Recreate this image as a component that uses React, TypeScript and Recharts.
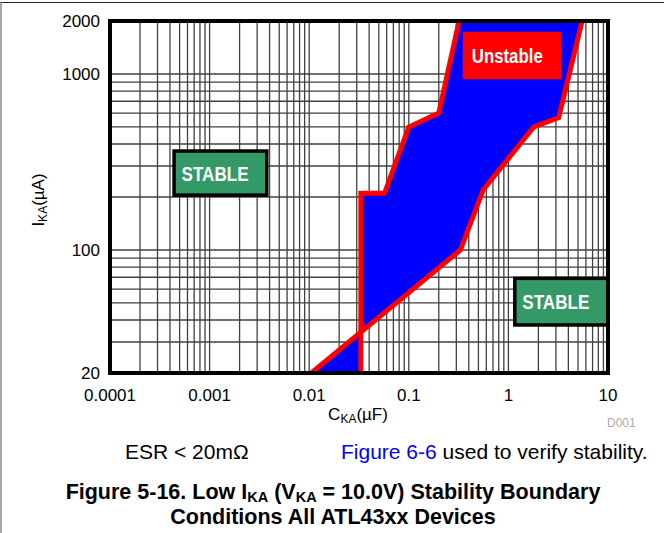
import { CartesianGrid, ReferenceArea, Scatter, ScatterChart, XAxis, YAxis } from "recharts";

// boundary of the unstable region (C in µF, I in µA)
const leftEdgeC = [0.033, 0.033, 0.057, 0.1, 0.2, 0.32];
const leftEdgeI = [20, 210, 210, 500, 600, 2000];
const rightEdgeC = [5.5, 3.2, 1.8, 0.56, 0.33, 0.0105];
const rightEdgeI = [2000, 565, 500, 220, 100, 20];

// axis labels
const xDecades = [0.0001, 0.001, 0.01, 0.1, 1, 10];
const yLabels = [20, 100, 1000, 2000];
const minorSteps = [1, 2, 3, 4, 5, 6, 7, 8, 9];
const yGrid = [20, 30, 40, 50, 60, 70, 80, 90, 100, 200, 300, 400, 500, 600, 700, 800, 900, 1000, 2000];

const xGrid = xDecades
    .slice(0, -1)
    .flatMap((d) => minorSteps.map((m) => Number((d * m).toPrecision(3))))
    .concat([10]);

const leftEdge = leftEdgeC.map((c, i) => ({ c, i: leftEdgeI[i] }));
const rightEdge = rightEdgeC.map((c, i) => ({ c, i: rightEdgeI[i] }));
const region = [...leftEdge, ...rightEdge];

const near = (a: number, b: number) => Math.abs(a - b) / b < 1e-6;
const fmtX = (v: number) => (xDecades.some((d) => near(v, d)) ? String(v) : "");
const fmtY = (v: number) => (yLabels.some((d) => near(v, d)) ? String(v) : "");

const font = "'Liberation Sans', Arial, sans-serif";

const boxShape = (label: string, fill: string, border: boolean, textWidth: number) => (p: any) => (
    <g>
        <rect x={p.x} y={p.y} width={p.width} height={p.height} fill={fill}
            stroke={border ? "#000" : "none"} strokeWidth={3.5} />
        <text x={p.x + (border ? 7.5 : 9)} y={p.y + p.height / 2 + 7.5} fill="#fff" fontWeight="bold"
            fontSize={19.5} fontFamily={font} textLength={textWidth} lengthAdjust="spacingAndGlyphs">
            {label}
        </text>
    </g>
);

const noDot = () => <g />;

export default function App() {
    return (
        <div style={{ position: "absolute", left: 0, top: 0, width: 664, height: 533, background: "#fff", fontFamily: font }}>
            <ScatterChart width={664} height={440} margin={{ top: 21, right: 56, bottom: 37, left: 0 }}>
                <CartesianGrid stroke="#404040" strokeWidth={1.3} />
                <XAxis type="number" dataKey="c" scale="log" domain={[0.0001, 10]} allowDataOverflow
                    ticks={xGrid} interval={0} tickFormatter={fmtX} height={30}
                    tickSize={0} tickMargin={16} axisLine={false}
                    tick={{ fontSize: 17, fill: "#000", fontFamily: font }} />
                <YAxis type="number" dataKey="i" scale="log" domain={[20, 2000]} allowDataOverflow
                    ticks={yGrid} interval={0} tickFormatter={fmtY} width={110}
                    tickSize={0} tickMargin={10} axisLine={false}
                    tick={{ fontSize: 17, fill: "#000", fontFamily: font }} />
                <Scatter data={region} fill="#0000ff" line={{ fill: "#0000ff", stroke: "none" }}
                    lineType="joint" shape={noDot} isAnimationActive={false} />
                <Scatter data={leftEdge} fill="#ff0000" line={{ stroke: "#ff0000", strokeWidth: 5 }}
                    lineType="joint" shape={noDot} isAnimationActive={false} />
                <Scatter data={rightEdge} fill="#ff0000" line={{ stroke: "#ff0000", strokeWidth: 5 }}
                    lineType="joint" shape={noDot} isAnimationActive={false} />
                <ReferenceArea x1={0.00044} x2={0.00375} y1={205} y2={365} zIndex={1000}
                    shape={boxShape("STABLE", "#339966", true, 67)} />
                <ReferenceArea x1={1.16} x2={10} y1={37.5} y2={69} zIndex={1000}
                    shape={boxShape("STABLE", "#339966", true, 67)} />
                <ReferenceArea x1={0.348} x2={3.43} y1={933} y2={1738} zIndex={1000}
                    shape={boxShape("Unstable", "#ff0000", false, 71)} />
                <ReferenceArea x1={0.0001} x2={10} y1={20} y2={2000} zIndex={1100}
                    fill="none" fillOpacity={0} stroke="#000" strokeWidth={4} />
            </ScatterChart>
            <svg width={664} height={533} style={{ position: "absolute", left: 0, top: 0, pointerEvents: "none" }}>
                <line x1={0} y1={2.5} x2={664} y2={2.5} stroke="#222" strokeWidth={1} />
                <line x1={1} y1={2} x2={1} y2={533} stroke="#888" strokeWidth={1.5} />
                <text transform="translate(43.5,200) rotate(-90)" textAnchor="middle" fontSize={17} fontFamily={font} fill="#000">
                    I<tspan fontSize={12} dy={3}>KA</tspan><tspan dy={-3}>(µA)</tspan>
                </text>
                <text x={358} y={419.5} textAnchor="middle" fontSize={17} fontFamily={font} fill="#000">
                    C<tspan fontSize={12} dy={3}>KA</tspan><tspan dy={-3}>(µF)</tspan>
                </text>
                <text x={607} y={427} fontSize={12} fontFamily={font} fill="#aaa">D001</text>
                <text x={125} y={459} fontSize={21} fontFamily={font} fill="#000">ESR &lt; 20mΩ</text>
                <text x={341} y={459} fontSize={21} fontFamily={font} fill="#000">
                    <tspan fill="#0000ff">Figure 6-6</tspan> used to verify stability.
                </text>
                <text x={333} y={498.5} textAnchor="middle" fontSize={21.5} fontWeight="bold" fontFamily={font} fill="#000">
                    Figure 5-16. Low I<tspan fontSize={14.5} dy={3}>KA</tspan><tspan dy={-3}> (V</tspan>
                    <tspan fontSize={14.5} dy={3}>KA</tspan><tspan dy={-3}> = 10.0V) Stability Boundary</tspan>
                </text>
                <text x={333} y={524} textAnchor="middle" fontSize={21.5} fontWeight="bold" fontFamily={font} fill="#000">
                    Conditions All ATL43xx Devices
                </text>
            </svg>
        </div>
    );
}
